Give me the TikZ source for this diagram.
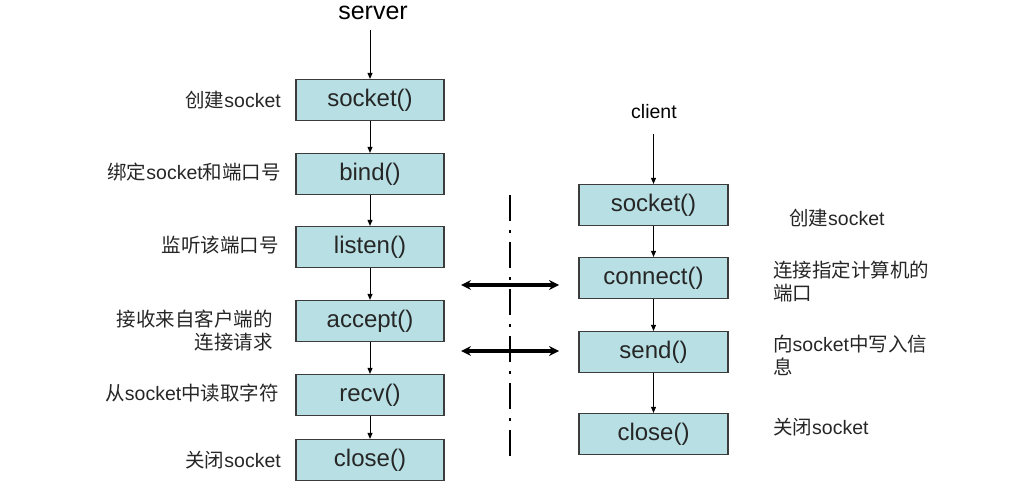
\documentclass[tikz,border=0pt]{standalone}
\usepackage{fontspec}
\setmainfont{Liberation Sans}
\newfontfamily\cjk{Noto Sans CJK SC}
\usetikzlibrary{arrows.meta}
\definecolor{boxfill}{RGB}{184,224,228}
\definecolor{boxline}{RGB}{60,60,60}
\begin{document}
\begin{tikzpicture}[x=1pt,y=-1pt,
  fn/.style={draw=boxline,fill=boxfill,line width=1.2pt,minimum height=41pt,inner sep=0pt,font=\fontsize{24}{26}\selectfont,text=black!85},
  sfn/.style={fn,minimum width=148pt},
  cfn/.style={fn,minimum width=149pt},
  lbl/.style={font=\fontsize{19.5}{23}\selectfont,inner sep=0pt,text=black!85},
  flowarrow/.style={draw=black,line width=0.9pt,-{Triangle[length=6pt,width=5pt]}},
  linkarrow/.style={draw=black,line width=3.2pt,{Stealth[length=10pt,width=10pt,line width=0pt]}-{Stealth[length=10pt,width=10pt,line width=0pt]}}]
\useasboundingbox (0,0) rectangle (1030,497);
% titles
\node[font=\fontsize{25}{26}\selectfont,inner sep=0pt] (srv) at (373,13) {server};
\node[font=\fontsize{19.5}{22}\selectfont,inner sep=0pt] (cli) at (654,112) {client};
\coordinate (srvt) at (370,30);
\coordinate (clit) at (653.5,134);
% server column
\node[sfn] (s1) at (370,100) {socket()};
\node[sfn] (s2) at (370,174) {bind()};
\node[sfn] (s3) at (370,247) {listen()};
\node[sfn] (s4) at (370,321) {accept()};
\node[sfn] (s5) at (370,395) {recv()};
\node[sfn] (s6) at (370,460) {close()};
% client column
\node[cfn] (c1) at (653.5,205) {socket()};
\node[cfn] (c2) at (653.5,278) {connect()};
\node[cfn] (c3) at (653.5,352) {send()};
\node[cfn] (c4) at (653.5,434) {close()};
% flow arrows
\draw[flowarrow] (srvt) -- (s1);
\draw[flowarrow] (s1) -- (s2);
\draw[flowarrow] (s2) -- (s3);
\draw[flowarrow] (s3) -- (s4);
\draw[flowarrow] (s4) -- (s5);
\draw[flowarrow] (s5) -- (s6);
\draw[flowarrow] (clit) -- (c1);
\draw[flowarrow] (c1) -- (c2);
\draw[flowarrow] (c2) -- (c3);
\draw[flowarrow] (c3) -- (c4);
% divider
\coordinate (d1) at (510,195);
\coordinate (d2) at (510,456);
\draw[line width=2.4pt,dash pattern=on 26pt off 9pt on 3pt off 9pt] (d1) -- (d2);
% links
\coordinate (a1l) at (461,285);
\coordinate (a1r) at (559,285);
\coordinate (a2l) at (461,351);
\coordinate (a2r) at (559,351);
\draw[linkarrow] (a1l) -- (a1r);
\draw[linkarrow] (a2l) -- (a2r);
% left labels
\node[lbl,anchor=east] (l1) at (281,100) {{\cjk 创建}socket};
\node[lbl,anchor=east] (l2) at (281,172) {{\cjk 绑定}socket{\cjk 和端口号}};
\node[lbl,anchor=east] (l3) at (279,245) {{\cjk 监听该端口号}};
\node[lbl,anchor=east,align=right] (l4) at (273,331) {{\cjk 接收来自客户端的}\\{\cjk 连接请求}};
\node[lbl,anchor=east] (l5) at (279,393) {{\cjk 从}socket{\cjk 中读取字符}};
\node[lbl,anchor=east] (l6) at (281,460) {{\cjk 关闭}socket};
% right labels
\node[lbl,anchor=west] (r1) at (789,218) {{\cjk 创建}socket};
\node[lbl,anchor=west,align=left] (r2) at (773,282) {{\cjk 连接指定计算机的}\\{\cjk 端口}};
\node[lbl,anchor=west,align=left] (r3) at (773,355) {{\cjk 向}socket{\cjk 中写入信}\\{\cjk 息}};
\node[lbl,anchor=west] (r4) at (773,427) {{\cjk 关闭}socket};
\end{tikzpicture}
\end{document}
